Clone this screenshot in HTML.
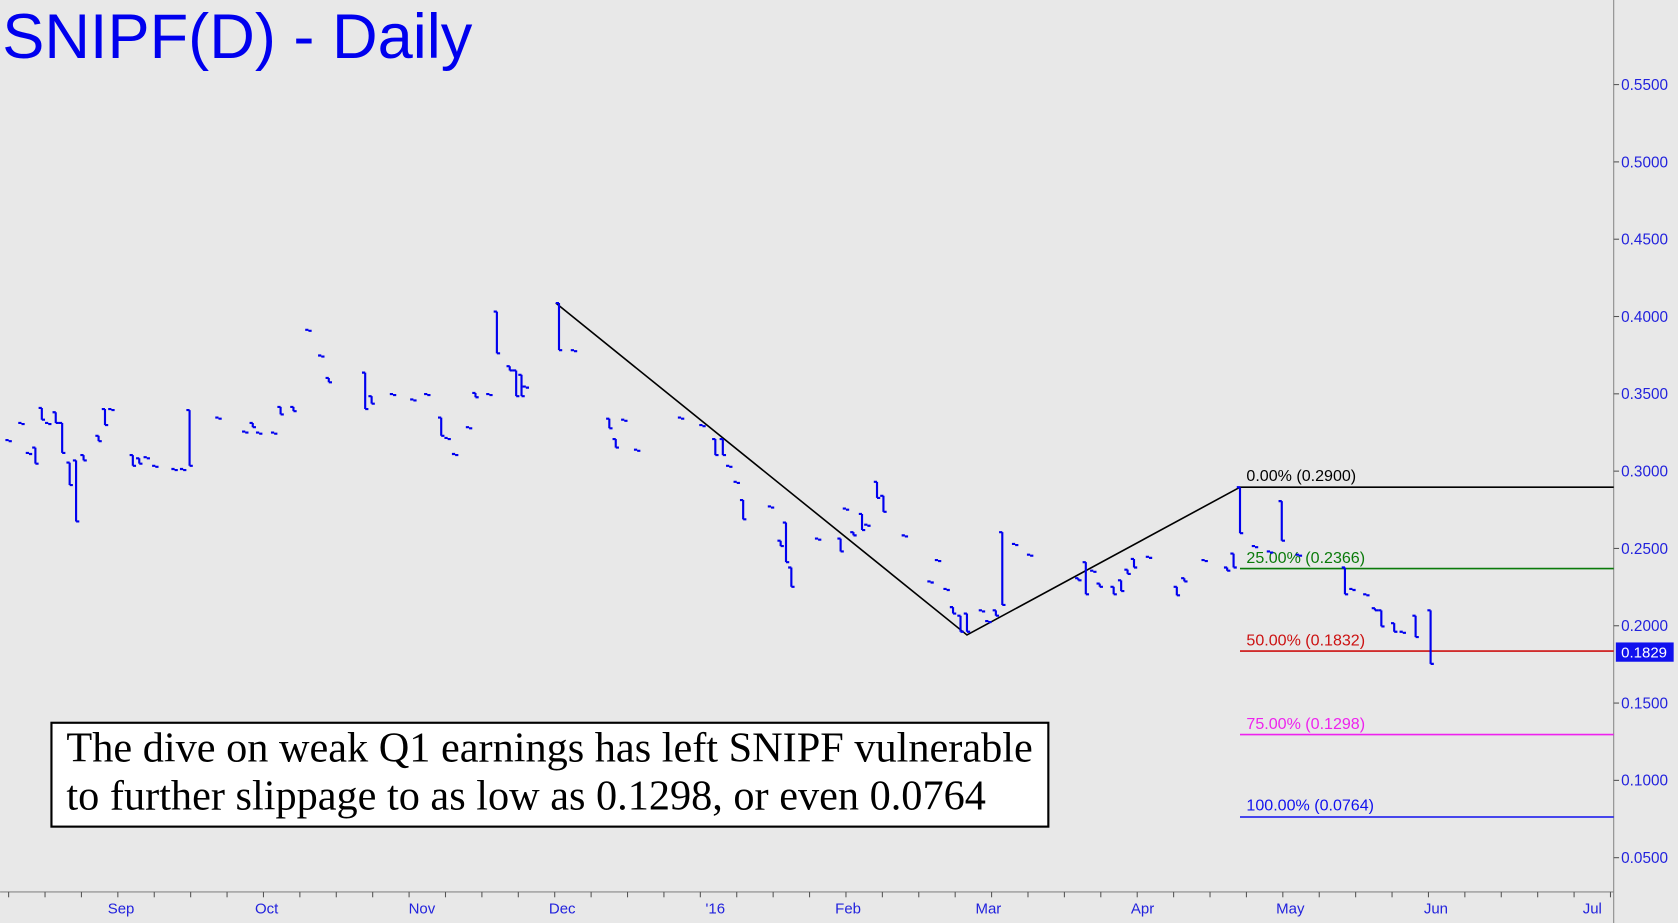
<!DOCTYPE html>
<html><head><meta charset="utf-8"><style>
html,body{margin:0;padding:0;background:#e8e8e8;overflow:hidden}
svg{display:block}
</style></head><body>
<svg id="s" width="1678" height="923" viewBox="0 0 1567 862" xmlns="http://www.w3.org/2000/svg" font-family="Liberation Sans, sans-serif">
<rect width="1567" height="862" fill="#e8e8e8"/>
<line x1="1507" y1="0" x2="1507" y2="862" stroke="#888" stroke-width="1"/>
<line x1="0" y1="833" x2="1507" y2="833" stroke="#888" stroke-width="1"/>
<text x="2" y="54" font-size="59" fill="#0000ee">SNIPF(D) - Daily</text>
<g id="ylab" font-size="14.3" fill="#2222dd"></g>
<g id="xlab" font-size="14" fill="#2222dd"></g>
<g id="ticks" stroke="#555" stroke-width="1"></g>
<polyline points="519,283 903,593 1158,455" fill="none" stroke="#000" stroke-width="1.5"/>
<line x1="1158" y1="455" x2="1507" y2="455" stroke="#000" stroke-width="1.5"/>
<line x1="1158" y1="531" x2="1507" y2="531" stroke="#0a7a0a" stroke-width="1.5"/>
<line x1="1158" y1="608" x2="1507" y2="608" stroke="#cc1111" stroke-width="1.5"/>
<line x1="1158" y1="686" x2="1507" y2="686" stroke="#ee22ee" stroke-width="1.5"/>
<line x1="1158" y1="763" x2="1507" y2="763" stroke="#1111ee" stroke-width="1.5"/>
<g font-size="15">
<text x="1164" y="449" fill="#000">0.00% (0.2900)</text>
<text x="1164" y="526" fill="#0a7a0a">25.00% (0.2366)</text>
<text x="1164" y="603" fill="#cc1111">50.00% (0.1832)</text>
<text x="1164" y="681" fill="#ee22ee">75.00% (0.1298)</text>
<text x="1164" y="757" fill="#1111ee">100.00% (0.0764)</text>
</g>
<g id="bars" stroke="#0000ee" stroke-width="2" fill="none"></g>
<rect x="1509" y="600" width="54" height="18" fill="#1111ee"/>
<text x="1514" y="614" font-size="14" fill="#fff">0.1829</text>
<rect x="48" y="675" width="931" height="97" fill="#fff" stroke="#000" stroke-width="2"/>
<text x="62" y="711" font-size="39.5" font-family="Liberation Serif, serif" fill="#000">The dive on weak Q1 earnings has left SNIPF vulnerable</text>
<text x="62" y="756" font-size="39.5" font-family="Liberation Serif, serif" fill="#000">to further slippage to as low as 0.1298, or even 0.0764</text>
</svg>
<script>
var NS="http://www.w3.org/2000/svg";
function el(p,t,a,txt){var e=document.createElementNS(NS,t);for(var k in a)e.setAttribute(k,a[k]);if(txt)e.textContent=txt;document.getElementById(p).appendChild(e);}
for(var i=0;i<11;i++){var v=0.55-i*0.05,y=79+i*72.2;el("ylab","text",{x:1514,y:y+5},v.toFixed(4));el("ticks","line",{x1:1507,y1:y,x2:1512,y2:y});}
var xl=[["Sep",113],["Oct",249],["Nov",394],["Dec",525],["'16",668],["Feb",792],["Mar",923],["Apr",1067],["May",1205],["Jun",1341],["Jul",1487]];
xl.forEach(function(a){el("xlab","text",{x:a[1],y:853,"text-anchor":"middle"},a[0]);});
for(var x=8;x<1507;x+=34)el("ticks","line",{x1:x,y1:833,x2:x,y2:838});
var b=[[8,411,411],[20,395,395],[27,423,423],[33,418,433],[39,381,392],[45,395,395],[52,385,395],[58,395,423],[65,432,453],[71,430,487],[78,425,430],[92,407,412],[98,382,397],[104,382,382],[124,425,435],[130,428,433],[137,427,427],[145,435,435],[163,438,438],[171,438,438],[177,383,435],[204,390,390],[229,403,403],[236,395,399],[242,404,404],[256,404,404],[262,380,387],[274,380,384],[288,308,308],[300,332,332],[307,353,357],[341,348,382],[347,370,377],[367,368,368],[386,373,373],[399,368,368],[412,390,407],[418,409,409],[425,424,424],[438,399,399],[444,367,371],[457,368,368],[464,291,330],[476,342,346],[482,346,370],[487,350,370],[491,361,361],[522,283,327],[536,327,327],[569,391,400],[575,410,418],[583,392,392],[595,420,420],[636,390,390],[656,397,397],[668,410,425],[675,410,425],[681,435,435],[688,450,450],[694,467,485],[720,473,473],[729,505,510],[734,488,525],[739,530,548],[764,503,503],[785,503,515],[790,475,475],[797,497,500],[805,480,495],[810,490,490],[819,450,465],[825,463,478],[845,500,500],[876,523,523],[869,543,543],[884,550,550],[890,567,573],[897,575,590],[903,573,590],[917,570,570],[923,580,580],[930,570,575],[936,497,565],[948,508,508],[962,518,518],[1007,540,542],[1014,525,555],[1021,533,533],[1027,545,548],[1040,548,555],[1047,542,552],[1053,532,536],[1059,522,530],[1073,520,520],[1099,548,556],[1106,540,543],[1125,523,523],[1146,530,533],[1152,517,530],[1158,455,498],[1172,510,510],[1186,515,515],[1197,468,505],[1213,518,518],[1256,530,555],[1263,550,550],[1276,555,555],[1284,568,570],[1290,570,585],[1302,582,590],[1310,590,590],[1322,575,595],[1336,570,620]];
b.forEach(function(a){var x=a[0],t=a[1],l=a[2]+(a[2]==a[1]?1:0);el("bars","path",{d:"M"+x+" "+t+"V"+l+"M"+(x-3)+" "+t+"H"+x+"M"+x+" "+l+"H"+(x+3)});});
</script>
</body></html>
